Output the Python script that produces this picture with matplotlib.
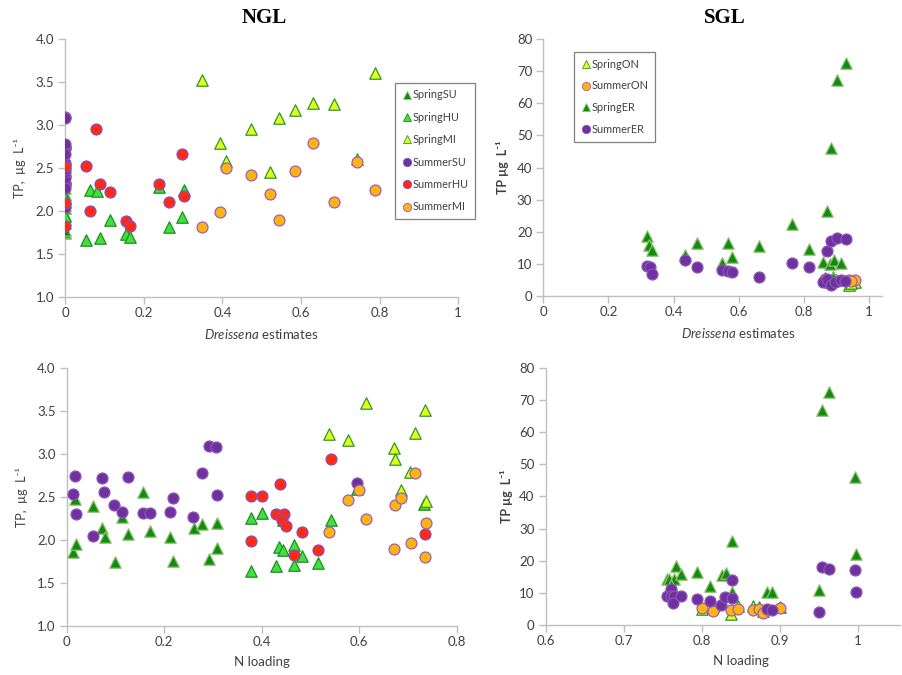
import matplotlib
matplotlib.use("Agg")
import matplotlib.pyplot as plt
from matplotlib.lines import Line2D

plt.rcParams['font.family'] = ['Lato', 'DejaVu Sans']
plt.rcParams['mathtext.fontset'] = 'custom'
plt.rcParams['mathtext.it'] = 'Lato:italic'
plt.rcParams['mathtext.rm'] = 'Lato'

# ---------------- NGL vs Dreissena estimates ----------------
ngl_d_springSU_x = [0]*18
ngl_d_springSU_y = [2.48, 1.86, 1.95, 2.40, 2.14, 2.04, 1.74, 2.27, 2.07, 2.56, 2.10, 2.04, 1.76, 2.14, 2.19, 1.78, 2.20, 1.91]
ngl_d_springHU_x = [0, 0, 0.062, 0.080, 0.054, 0.089, 0.114, 0.155, 0.164, 0.239, 0.263, 0.297, 0.303]
ngl_d_springHU_y = [1.94, 2.15, 2.25, 2.23, 1.66, 1.69, 1.90, 1.73, 1.70, 2.28, 1.81, 1.93, 2.24]
ngl_d_springMI_x = [0.347, 0.789, 0.395, 0.409, 0.472, 0.520, 0.543, 0.585, 0.630, 0.683, 0.743]
ngl_d_springMI_y = [3.52, 3.61, 2.79, 2.58, 2.95, 2.46, 3.08, 3.17, 3.26, 3.25, 2.60]
ngl_d_summerSU_x = [0]*18
ngl_d_summerSU_y = [2.75, 2.54, 2.30, 2.05, 2.72, 2.56, 2.41, 2.33, 2.74, 2.32, 2.38, 2.45, 2.49, 2.27, 2.78, 3.10, 3.08, 2.66]
ngl_d_summerHU_x = [0, 0, 0, 0.079, 0.054, 0.062, 0.089, 0.114, 0.155, 0.164, 0.239, 0.263, 0.297, 0.303]
ngl_d_summerHU_y = [2.52, 2.09, 1.83, 2.95, 2.52, 2.00, 2.31, 2.22, 1.88, 1.83, 2.31, 2.10, 2.66, 2.17]
ngl_d_summerMI_x = [0.347, 0.395, 0.409, 0.472, 0.520, 0.543, 0.585, 0.630, 0.683, 0.743, 0.789]
ngl_d_summerMI_y = [1.81, 1.99, 2.50, 2.42, 2.20, 1.90, 2.47, 2.79, 2.10, 2.57, 2.25]

# ---------------- SGL vs Dreissena estimates ----------------
sgl_d_springON_x = [0.865, 0.880, 0.890, 0.940, 0.957, 0.945, 0.870, 0.900]
sgl_d_springON_y = [5.5, 4.5, 6.0, 3.4, 4.3, 4.0, 4.8, 5.0]
sgl_d_summerON_x = [0.865, 0.878, 0.892, 0.905, 0.939, 0.957, 0.945, 0.870]
sgl_d_summerON_y = [5.3, 4.4, 5.0, 4.8, 5.0, 5.0, 4.6, 4.8]
sgl_d_springER_x = [0.318, 0.323, 0.333, 0.435, 0.473, 0.550, 0.568, 0.578, 0.662, 0.765, 0.815, 0.858, 0.870, 0.882, 0.880, 0.893, 0.901, 0.913, 0.928, 0.890]
sgl_d_springER_y = [18.7, 15.8, 14.3, 12.7, 16.4, 10.2, 16.6, 12.0, 15.6, 22.4, 14.5, 10.5, 26.5, 46.2, 9.9, 11.2, 67.2, 10.4, 72.6, 6.0]
sgl_d_summerER_x = [0.319, 0.329, 0.334, 0.435, 0.473, 0.550, 0.566, 0.578, 0.662, 0.765, 0.815, 0.870, 0.882, 0.901, 0.928, 0.858, 0.870, 0.882, 0.896, 0.913, 0.925]
sgl_d_summerER_y = [9.2, 9.0, 6.8, 11.1, 8.9, 8.1, 7.9, 7.4, 6.0, 10.2, 8.9, 13.9, 17.1, 18.1, 17.6, 4.3, 5.2, 3.4, 4.5, 5.0, 4.8]

# ---------------- NGL vs N loading ----------------
ngl_n_springSU_x = [0.017, 0.012, 0.019, 0.054, 0.072, 0.079, 0.098, 0.114, 0.126, 0.157, 0.171, 0.212, 0.217, 0.260, 0.278, 0.292, 0.308, 0.309]
ngl_n_springSU_y = [2.48, 1.86, 1.95, 2.40, 2.14, 2.04, 1.74, 2.27, 2.07, 2.56, 2.10, 2.04, 1.76, 2.14, 2.19, 1.78, 2.20, 1.91]
ngl_n_springHU_x = [0.377, 0.400, 0.377, 0.436, 0.443, 0.429, 0.444, 0.466, 0.466, 0.482, 0.516, 0.542, 0.733, 0.595]
ngl_n_springHU_y = [2.26, 2.31, 1.64, 1.92, 1.89, 1.70, 2.23, 1.94, 1.71, 1.81, 1.73, 2.23, 2.42, 2.60]
ngl_n_springMI_x = [0.537, 0.614, 0.576, 0.672, 0.674, 0.703, 0.715, 0.735, 0.685, 0.737]
ngl_n_springMI_y = [3.24, 3.60, 3.16, 3.07, 2.94, 2.79, 3.25, 3.51, 2.58, 2.46]
ngl_n_summerSU_x = [0.017, 0.012, 0.018, 0.053, 0.072, 0.077, 0.097, 0.113, 0.125, 0.157, 0.171, 0.211, 0.217, 0.259, 0.277, 0.291, 0.307, 0.308, 0.595]
ngl_n_summerSU_y = [2.75, 2.54, 2.30, 2.05, 2.72, 2.56, 2.41, 2.33, 2.74, 2.32, 2.32, 2.33, 2.49, 2.27, 2.78, 3.10, 3.08, 2.52, 2.66]
ngl_n_summerHU_x = [0.377, 0.400, 0.378, 0.438, 0.429, 0.446, 0.442, 0.450, 0.466, 0.482, 0.516, 0.542, 0.735]
ngl_n_summerHU_y = [2.51, 2.51, 1.99, 2.65, 2.30, 2.30, 2.23, 2.16, 1.83, 2.09, 1.88, 2.94, 2.07]
ngl_n_summerMI_x = [0.537, 0.576, 0.600, 0.614, 0.672, 0.674, 0.685, 0.706, 0.715, 0.737, 0.735]
ngl_n_summerMI_y = [2.09, 2.47, 2.58, 2.24, 1.90, 2.41, 2.49, 1.97, 2.78, 2.20, 1.80]

# ---------------- SGL vs N loading ----------------
sgl_n_springON_x = [0.800, 0.814, 0.838, 0.846, 0.866, 0.873, 0.879, 0.900]
sgl_n_springON_y = [5.0, 5.8, 3.5, 6.0, 6.0, 5.5, 4.5, 5.5]
sgl_n_summerON_x = [0.800, 0.814, 0.838, 0.846, 0.866, 0.873, 0.879, 0.900]
sgl_n_summerON_y = [5.2, 4.3, 4.6, 5.0, 4.8, 5.0, 3.9, 5.4]
sgl_n_springER_x = [0.755, 0.758, 0.764, 0.767, 0.774, 0.794, 0.811, 0.826, 0.831, 0.839, 0.839, 0.883, 0.890, 0.950, 0.954, 0.963, 0.996, 0.998, 0.761]
sgl_n_springER_y = [14.4, 14.2, 14.2, 18.4, 15.8, 16.6, 12.1, 15.5, 16.3, 26.1, 10.2, 10.2, 10.2, 11.0, 66.8, 72.3, 45.9, 22.2, 12.4]
sgl_n_summerER_x = [0.755, 0.760, 0.760, 0.765, 0.763, 0.774, 0.794, 0.811, 0.825, 0.830, 0.839, 0.839, 0.883, 0.890, 0.954, 0.963, 0.950, 0.996, 0.998]
sgl_n_summerER_y = [9.1, 11.1, 9.1, 9.1, 6.7, 9.1, 8.0, 7.5, 6.1, 8.8, 13.9, 8.3, 4.9, 4.7, 17.9, 17.5, 4.1, 17.1, 10.2]

ngl_labels = ['SpringSU', 'SpringHU', 'SpringMI', 'SummerSU', 'SummerHU', 'SummerMI']
sgl_labels = ['SpringON', 'SummerON', 'SpringER', 'SummerER']

ngl_yticks = [1.0, 1.5, 2.0, 2.5, 3.0, 3.5, 4.0]
sgl_yticks = [0, 10, 20, 30, 40, 50, 60, 70, 80]
d_xticks = [0, 0.2, 0.4, 0.6, 0.8, 1.0]
ngl_n_xticks = [0, 0.2, 0.4, 0.6, 0.8]
sgl_n_xticks = [0.6, 0.7, 0.8, 0.9, 1.0]

# styles: (marker, face, edge)
DKG = '#138a13'
styles = {
    'SpringSU': ('^', DKG, '#8cc46a'),
    'SpringHU': ('^', '#3fe03f', '#1f8f1f'),
    'SpringMI': ('^', '#e4ff1a', '#2a9a2a'),
    'SummerSU': ('o', '#7030a0', '#8a55b5'),
    'SummerHU': ('o', '#ff2a10', '#8a4cc0'),
    'SummerMI': ('o', '#ffb30f', '#9a60c0'),
    'SpringON': ('^', '#e4ff1a', '#2a9a2a'),
    'SummerON': ('o', '#ffb30f', '#9a60c0'),
    'SpringER': ('^', DKG, '#8cc46a'),
    'SummerER': ('o', '#7030a0', '#8a55b5'),
}

GRAY = '#404040'
SPINE = '#bfbfbf'

fig = plt.figure(figsize=(9.03, 6.75), dpi=100)
ax_tl = fig.add_axes([0.0723, 0.560, 0.4350, 0.382])
ax_tr = fig.add_axes([0.6017, 0.5615, 0.3747, 0.3805])
ax_bl = fig.add_axes([0.0739, 0.0726, 0.4320, 0.3818])
ax_br = fig.add_axes([0.6043, 0.0740, 0.3924, 0.3813])

def sc(ax, lab, x, y):
    m, fc, ec = styles[lab]
    s = 62 if m == 'o' else 68
    ax.scatter(x, y, marker=m, s=s, facecolor=fc, edgecolor=ec, linewidths=0.9, label=lab, zorder=3)

def style(ax, xlim, ylim, xticks, yticks, yfmt):
    ax.set_xlim(*xlim)
    ax.set_ylim(*ylim)
    ax.set_xticks(xticks)
    ax.set_xticklabels([('%g' % t) for t in xticks])
    ax.set_yticks(yticks)
    ax.set_yticklabels([yfmt % t for t in yticks])
    for s in ['top', 'right']:
        ax.spines[s].set_visible(False)
    for s in ['left', 'bottom']:
        ax.spines[s].set_color(SPINE)
        ax.spines[s].set_linewidth(1.0)
    ax.tick_params(axis='both', colors=SPINE, labelcolor=GRAY, labelsize=9.5, length=5, width=1.0, direction='out')
    ax.tick_params(axis='x', pad=2)
    ax.tick_params(axis='y', pad=3)

# NGL Dreissena
sc(ax_tl, 'SpringSU', ngl_d_springSU_x, ngl_d_springSU_y)
sc(ax_tl, 'SpringHU', ngl_d_springHU_x, ngl_d_springHU_y)
sc(ax_tl, 'SpringMI', ngl_d_springMI_x, ngl_d_springMI_y)
sc(ax_tl, 'SummerSU', ngl_d_summerSU_x, ngl_d_summerSU_y)
sc(ax_tl, 'SummerHU', ngl_d_summerHU_x, ngl_d_summerHU_y)
sc(ax_tl, 'SummerMI', ngl_d_summerMI_x, ngl_d_summerMI_y)
style(ax_tl, (0, 1.0), (1.0, 4.0), d_xticks, ngl_yticks, '%.1f')

# SGL Dreissena
sc(ax_tr, 'SpringON', sgl_d_springON_x, sgl_d_springON_y)
sc(ax_tr, 'SummerON', sgl_d_summerON_x, sgl_d_summerON_y)
sc(ax_tr, 'SpringER', sgl_d_springER_x, sgl_d_springER_y)
sc(ax_tr, 'SummerER', sgl_d_summerER_x, sgl_d_summerER_y)
style(ax_tr, (0, 1.039), (0, 80), d_xticks, sgl_yticks, '%d')

# NGL N loading
sc(ax_bl, 'SpringSU', ngl_n_springSU_x, ngl_n_springSU_y)
sc(ax_bl, 'SpringHU', ngl_n_springHU_x, ngl_n_springHU_y)
sc(ax_bl, 'SpringMI', ngl_n_springMI_x, ngl_n_springMI_y)
sc(ax_bl, 'SummerSU', ngl_n_summerSU_x, ngl_n_summerSU_y)
sc(ax_bl, 'SummerHU', ngl_n_summerHU_x, ngl_n_summerHU_y)
sc(ax_bl, 'SummerMI', ngl_n_summerMI_x, ngl_n_summerMI_y)
style(ax_bl, (0, 0.8), (1.0, 4.0), ngl_n_xticks, ngl_yticks, '%.1f')

# SGL N loading
sc(ax_br, 'SpringON', sgl_n_springON_x, sgl_n_springON_y)
sc(ax_br, 'SummerON', sgl_n_summerON_x, sgl_n_summerON_y)
sc(ax_br, 'SpringER', sgl_n_springER_x, sgl_n_springER_y)
sc(ax_br, 'SummerER', sgl_n_summerER_x, sgl_n_summerER_y)
style(ax_br, (0.6, 1.054), (0, 80), sgl_n_xticks, sgl_yticks, '%d')

# axis labels
lab_kw = dict(color=GRAY, fontsize=9.5)
ax_tl.set_ylabel('TP,  µg  L⁻¹', fontsize=9, color=GRAY)
ax_tl.yaxis.set_label_coords(-0.099, 0.5)
ax_bl.set_ylabel('TP,  µg  L⁻¹', fontsize=9, color=GRAY)
ax_bl.yaxis.set_label_coords(-0.099, 0.5)
ax_tr.set_ylabel('TP µg  L⁻¹', fontsize=9, color=GRAY, fontweight='bold')
ax_tr.yaxis.set_label_coords(-0.100, 0.5)
ax_br.set_ylabel('TP µg  L⁻¹', fontsize=9, color=GRAY, fontweight='bold')
ax_br.yaxis.set_label_coords(-0.093, 0.5)

ax_tl.set_xlabel(r'$\mathit{Dreissena}$ estimates', **lab_kw)
ax_tl.xaxis.set_label_coords(0.5, -0.115)
ax_tr.set_xlabel(r'$\mathit{Dreissena}$ estimates', **lab_kw)
ax_tr.xaxis.set_label_coords(0.575, -0.118)
ax_bl.set_xlabel('N loading', **lab_kw)
ax_bl.xaxis.set_label_coords(0.5, -0.118)
ax_br.set_xlabel('N loading', **lab_kw)
ax_br.xaxis.set_label_coords(0.551, -0.118)

# titles
fig.text(264/903, 1 - 18/675, 'NGL', ha='center', va='center', fontsize=15,
         fontweight='bold', family='Liberation Serif', color='black')
fig.text(725/903, 1 - 18/675, 'SGL', ha='center', va='center', fontsize=15,
         fontweight='bold', family='Liberation Serif', color='black')

# legends
def make_handles(labels):
    hs = []
    for lab in labels:
        m, fc, ec = styles[lab]
        hs.append(Line2D([], [], linestyle='none', marker=m, markersize=6,
                         markerfacecolor=fc, markeredgecolor=ec, markeredgewidth=0.6, label=lab))
    return hs

leg_kw = dict(frameon=True, fancybox=False, edgecolor='#808080', framealpha=1,
              handletextpad=0.0, handlelength=1.0, borderpad=0.6,
              prop={'size': 7.8}, labelcolor=GRAY, borderaxespad=0)
leg1 = fig.legend(handles=make_handles(ngl_labels), loc='upper left',
                  bbox_to_anchor=(395/903, 1 - 83/675), labelspacing=1.05, **leg_kw)
leg1.get_frame().set_linewidth(0.9)
leg2 = fig.legend(handles=make_handles(sgl_labels), loc='upper left',
                  bbox_to_anchor=(574/903, 1 - 52/675), labelspacing=1.0, **leg_kw)
leg2.get_frame().set_linewidth(0.9)

fig.savefig('out.png', dpi=100)
